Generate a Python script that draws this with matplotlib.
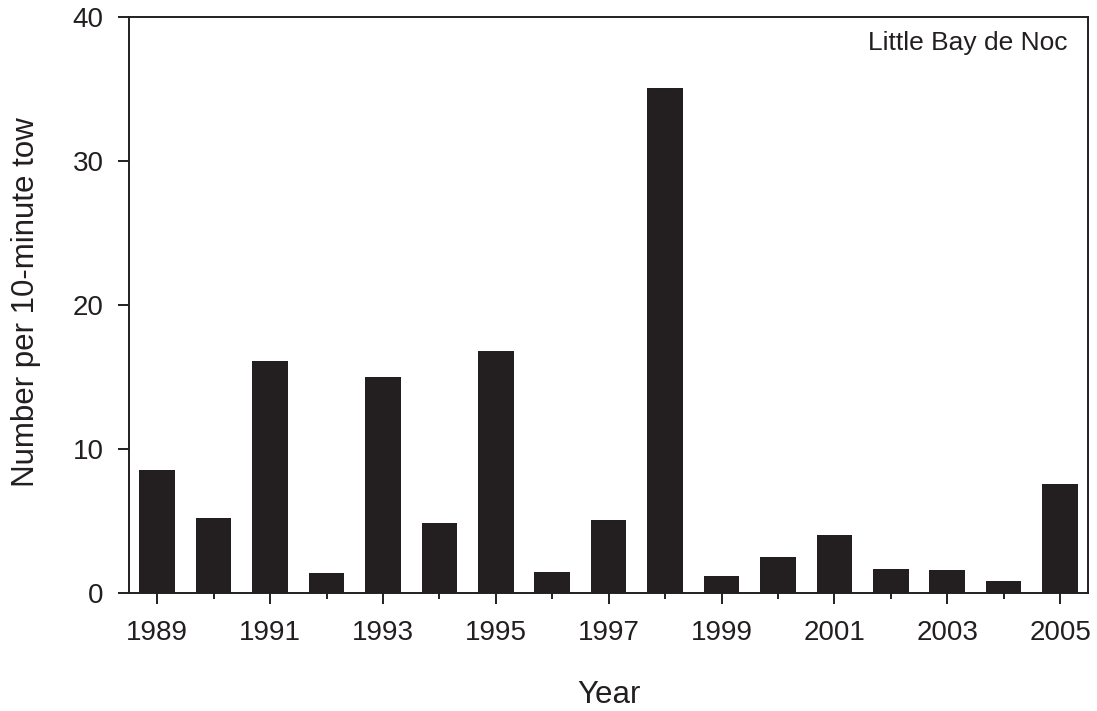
import matplotlib
matplotlib.use('Agg')
import matplotlib.pyplot as plt
from matplotlib.ticker import MultipleLocator

years = [1989, 1990, 1991, 1992, 1993, 1994, 1995, 1996, 1997,
         1998, 1999, 2000, 2001, 2002, 2003, 2004, 2005]
catch = [8.52, 5.17, 16.07, 1.37, 14.96, 4.89, 16.78, 1.49, 5.05,
         35.07, 1.2, 2.48, 4.0, 1.65, 1.6, 0.81, 7.53]
ytick_vals = [0, 10, 20, 30, 40]
site = 'Little Bay de Noc'

ink = '#231f20'
plt.rcParams['font.family'] = ['Liberation Sans', 'DejaVu Sans']

fig = plt.figure(figsize=(10.97, 7.11), dpi=100)
ax = fig.add_axes([0.1176, 0.166, 0.9921 - 0.1176, 0.9765 - 0.166])

ax.bar(years, catch, width=0.63, color=ink, edgecolor='none')

ax.set_xlim(1988.5, 2005.5)
ax.set_ylim(0, 40)
ax.set_yticks(ytick_vals)
ax.xaxis.set_major_locator(MultipleLocator(2, offset=1))
ax.xaxis.set_minor_locator(MultipleLocator(1))

for s in ax.spines.values():
    s.set_color(ink)
    s.set_linewidth(1.4)

ax.tick_params(axis='both', which='major', direction='out', length=7.7,
               width=1.4, color=ink, labelsize=20, labelcolor=ink)
ax.tick_params(axis='x', which='major', pad=11.5)
ax.tick_params(axis='y', which='major', pad=10.5)
ax.tick_params(axis='x', which='minor', direction='out', length=4.3,
               width=1.4, color=ink)
ax.tick_params(top=False, right=False, which='both')

# axis titles placed in figure coords
fig.text(609 / 1097, 1 - 703 / 711, 'Year', fontsize=22.5, color=ink,
         ha='center', va='baseline')
fig.text(26 / 1097, 1 - 302 / 711, 'Number per 10-minute tow', fontsize=22.5,
         color=ink, rotation=90, ha='center', va='center')

ax.text(0.978, 0.975, site, transform=ax.transAxes, ha='right', va='top',
        fontsize=19, color=ink)

fig.savefig('out.png', dpi=100)
